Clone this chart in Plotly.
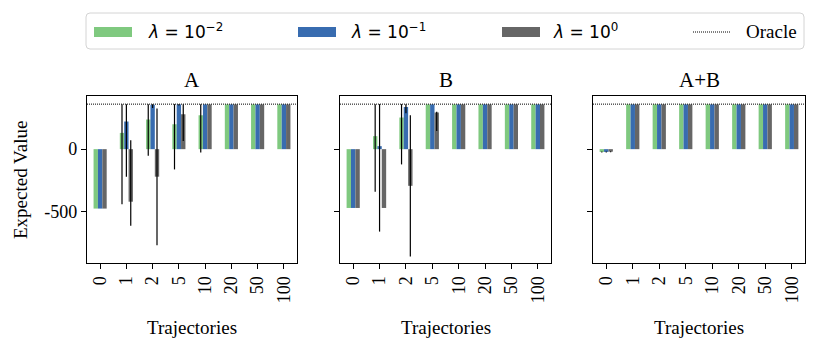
import plotly.graph_objects as go
from plotly.subplots import make_subplots

# the page puts the figure 8px in from the top-left corner
OFF = 8
W, H = 830 - OFF, 345 - OFF

trajectories = ["0", "1", "2", "5", "10", "20", "50", "100"]
lambda_labels = ["10<sup>−2</sup>", "10<sup>−1</sup>", "10<sup>0</sup>"]
colors = ["#7fc97f", "#386cb0", "#666666"]
panel_titles = ["A", "B", "A+B"]
oracle = 360

# panel A  (rows: lambda = 1e-2, 1e-1, 1e0)
a_mean = [[-475, 130, 237, 199, 271, 358, 358, 358],
          [-475, 221, 355, 358, 358, 358, 358, 358],
          [-475, -420, -220, 279, 358, 358, 358, 358]]
a_low = [[-475, -440, -53, -162, -27, 358, 358, 358],
         [-475, -220, 330, 350, 358, 358, 358, 358],
         [-475, -612, -768, 66, 358, 358, 358, 358]]
a_high = [[-475, 360, 360, 360, 360, 358, 358, 358],
          [-475, 360, 360, 360, 358, 358, 358, 358],
          [-475, 72, 325, 360, 358, 358, 358, 358]]

# panel B
b_mean = [[-470, 104, 253, 358, 358, 358, 358, 358],
          [-470, 24, 337, 358, 358, 358, 358, 358],
          [-470, -470, -293, 293, 358, 358, 358, 358]]
b_low = [[-470, -340, -122, 358, 358, 358, 358, 358],
         [-470, -659, 287, 358, 358, 358, 358, 358],
         [-470, -470, -859, 146, 358, 358, 358, 358]]
b_high = [[-470, 360, 360, 358, 358, 358, 358, 358],
          [-470, 360, 360, 358, 358, 358, 358, 358],
          [-470, -470, 271, 300, 358, 358, 358, 358]]

# panel A+B
c_mean = [[-22, 358, 358, 358, 358, 358, 358, 358],
          [-22, 358, 358, 358, 358, 358, 358, 358],
          [-20, 358, 358, 358, 358, 358, 358, 358]]
c_low = [[-26, 358, 358, 358, 358, 358, 358, 358],
         [-26, 358, 358, 358, 358, 358, 358, 358],
         [-24, 358, 358, 358, 358, 358, 358, 358]]
c_high = [[-18, 358, 358, 358, 358, 358, 358, 358],
          [-18, 358, 358, 358, 358, 358, 358, 358],
          [-16, 358, 358, 358, 358, 358, 358, 358]]

panels = [(a_mean, a_low, a_high), (b_mean, b_low, b_high), (c_mean, c_low, c_high)]

serif = "Liberation Serif"
sans = "DejaVu Sans"
dotted = dict(color="black", width=1, dash="1px,1px")


def px(x):
    return (x - OFF) / W


def py(y):
    return 1 - (y - OFF) / H


fig = make_subplots(rows=1, cols=3, shared_yaxes=True)

for col, (means, lows, highs) in enumerate(panels, start=1):
    for k in range(3):
        m, lo, hi = means[k], lows[k], highs[k]
        fig.add_trace(go.Bar(
            x=trajectories, y=m,
            marker=dict(color=colors[k], line=dict(width=0)),
            error_y=dict(type="data", symmetric=False,
                         array=[h - v for h, v in zip(hi, m)],
                         arrayminus=[v - l for v, l in zip(m, lo)],
                         color="black", thickness=1.2, width=0),
            showlegend=False,
        ), row=1, col=col)
    fig.add_hline(y=oracle, row=1, col=col, line=dotted)

# panel placement in window pixels
x_dom = [(87, 297), (340, 551), (593, 805)]
y_top, y_bot = 96, 263

axis_common = dict(showline=True, mirror=True, linecolor="black", linewidth=1.2,
                   ticks="outside", ticklen=5, tickwidth=1.2, tickcolor="black",
                   showgrid=False, zeroline=False, automargin=False,
                   tickfont=dict(family=serif, size=18, color="black"))

for i, (x0, x1) in enumerate(x_dom, start=1):
    fig.update_xaxes(domain=[px(x0), px(x1)], range=[-0.5, 7.5], tickangle=-90,
                     row=1, col=i, **axis_common)
    fig.update_yaxes(domain=[py(y_bot), py(y_top)], range=[-910, 425],
                     tickvals=[-500, 0], ticktext=["-500", "0"],
                     showticklabels=(i == 1), row=1, col=i, **axis_common)

for i, (x0, x1) in enumerate(x_dom):
    cx = px((x0 + x1) / 2)
    fig.add_annotation(x=cx, y=py(80), xref="paper", yref="paper",
                       text=panel_titles[i], showarrow=False,
                       font=dict(family=serif, size=21, color="black"),
                       xanchor="center", yanchor="middle")
    fig.add_annotation(x=cx, y=py(327), xref="paper", yref="paper",
                       text="Trajectories", showarrow=False,
                       font=dict(family=serif, size=19, color="black"),
                       xanchor="center", yanchor="middle")
fig.add_annotation(x=px(20), y=py(180), xref="paper", yref="paper",
                   text="Expected Value", textangle=-90, showarrow=False,
                   font=dict(family=serif, size=19, color="black"),
                   xanchor="center", yanchor="middle")

# legend box drawn by hand (wide patches like the original), rounded corners
bx0, bx1, by0, by1 = px(86), px(804), py(49), py(13)
rx, ry = 4 / W, 4 / H
box_path = (f"M {bx0 + rx},{by1} L {bx1 - rx},{by1} Q {bx1},{by1} {bx1},{by1 - ry} "
            f"L {bx1},{by0 + ry} Q {bx1},{by0} {bx1 - rx},{by0} "
            f"L {bx0 + rx},{by0} Q {bx0},{by0} {bx0},{by0 + ry} "
            f"L {bx0},{by1 - ry} Q {bx0},{by1} {bx0 + rx},{by1} Z")
fig.add_shape(type="path", path=box_path, xref="paper", yref="paper",
              line=dict(color="#d4d4d4", width=1), fillcolor="white", layer="above")
patch_x = [94, 298, 502]
text_x = [146, 349, 551]
for k in range(3):
    fig.add_shape(type="rect", xref="paper", yref="paper",
                  x0=px(patch_x[k]), x1=px(patch_x[k] + 38),
                  y0=py(37), y1=py(27),
                  line=dict(width=0), fillcolor=colors[k], layer="above")
    fig.add_annotation(x=px(text_x[k]), y=py(31), xref="paper", yref="paper",
                       text=f"<i>λ</i> = {lambda_labels[k]}", showarrow=False,
                       font=dict(family=sans, size=17, color="black"),
                       xanchor="left", yanchor="middle")
fig.add_shape(type="line", xref="paper", yref="paper",
              x0=px(693), x1=px(730), y0=py(32), y1=py(32),
              line=dotted, layer="above")
fig.add_annotation(x=px(744), y=py(31), xref="paper", yref="paper",
                   text="Oracle", showarrow=False,
                   font=dict(family=serif, size=19, color="black"),
                   xanchor="left", yanchor="middle")

fig.update_layout(
    width=W, height=H,
    margin=dict(l=0, r=0, t=0, b=0),
    barmode="group", bargap=0.5, bargroupgap=0,
    plot_bgcolor="white", paper_bgcolor="white",
    font=dict(family=serif, size=18, color="black"),
)

fig.write_html("out.html")
